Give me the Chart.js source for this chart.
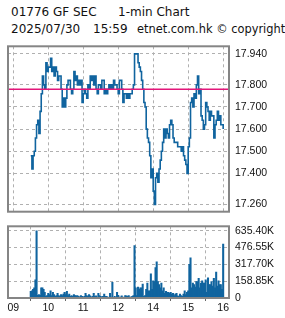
<!DOCTYPE html>
<html>
<head>
<meta charset="utf-8">
<script src="https://cdn.jsdelivr.net/npm/chart.js@4.4.1/dist/chart.umd.min.js"></script>
<style>
  body { margin: 0; background: #fff; width: 285px; height: 318px; overflow: hidden; position: relative;
         font-family: "DejaVu Sans", sans-serif; color: #111; }
  .hd { position: absolute; font-size: 12px; line-height: 14px; white-space: nowrap; }
  canvas { position: absolute; left: 0; }
</style>
</head>
<body>
<div class="hd" style="left:11px;top:5px">01776 GF SEC</div>
<div class="hd" style="left:118px;top:5px">1-min Chart</div>
<div class="hd" style="left:11px;top:22px">2025/07/30</div>
<div class="hd" style="left:93px;top:22px">15:59</div>
<div class="hd" style="left:137px;top:22px;font-size:11.4px">etnet.com.hk © copyright</div>
<canvas id="priceChart" width="285" height="190" style="top:34px"></canvas>
<canvas id="volChart" width="285" height="104" style="top:214px"></canvas>
<script>
/* ---------- data (trading minutes counted from 09:00, lunch break removed) ---------- */
const firstMinute = 30;   // 09:30
const stepMinutes = 2;
const prevClose = 17.78;

const prices = [
  17.48, 17.42, 17.48, 17.50, 17.56, 17.62, 17.64, 17.58, 17.68, 17.76,
  17.84, 17.80, 17.78, 17.90, 17.86, 17.88, 17.88, 17.92, 17.86, 17.88,
  17.84, 17.88, 17.86, 17.82, 17.84, 17.84, 17.78, 17.70, 17.74, 17.70,
  17.74, 17.80, 17.82, 17.82, 17.78, 17.76, 17.78, 17.86, 17.82, 17.84,
  17.80, 17.82, 17.80, 17.82, 17.72, 17.76, 17.78, 17.76, 17.74, 17.80,
  17.78, 17.84, 17.82, 17.84, 17.80, 17.84, 17.78, 17.76, 17.80, 17.80,
  17.78, 17.82, 17.82, 17.76, 17.78, 17.76, 17.78, 17.80, 17.78, 17.80,
  17.78, 17.82, 17.80, 17.80, 17.78, 17.76, 17.82, 17.82, 17.78, 17.72,
  17.76, 17.76, 17.74, 17.76, 17.74, 17.76, 17.76, 17.78, 17.80, 17.94,
  17.94, 17.94, 17.90, 17.88, 17.86, 17.82, 17.78, 17.72, 17.70, 17.60,
  17.56, 17.54, 17.48, 17.38, 17.42, 17.32, 17.26, 17.38, 17.40, 17.36,
  17.42, 17.46, 17.50, 17.54, 17.60, 17.56, 17.60, 17.58, 17.56, 17.62,
  17.64, 17.62, 17.56, 17.54, 17.54, 17.54, 17.52, 17.52, 17.52, 17.50,
  17.52, 17.48, 17.46, 17.44, 17.40, 17.52, 17.56, 17.72, 17.74, 17.70,
  17.76, 17.74, 17.80, 17.84, 17.76, 17.78, 17.66, 17.64, 17.60, 17.62,
  17.72, 17.70, 17.68, 17.64, 17.68, 17.66, 17.66, 17.56, 17.62, 17.64,
  17.68, 17.64, 17.66, 17.62, 17.62, 17.60
];

// volume in thousands of shares
const volumesK = [
  62, 68, 82, 97, 171, 635.4, 26, 32, 26, 97,
  97, 82, 53, 15, 24, 44, 32, 68, 24, 53,
  32, 15, 24, 44, 24, 15, 32, 24, 38, 53,
  32, 62, 24, 38, 15, 24, 15, 32, 24, 21,
  24, 15, 9, 24, 15, 9, 15, 44, 24, 15,
  32, 21, 9, 15, 44, 15, 21, 9, 44, 24,
  15, 9, 15, 38, 15, 15, 9, 6, 44, 9,
  147, 6, 15, 6, 53, 26, 9, 9, 21, 9,
  6, 24, 21, 15, 24, 9, 9, 15, 24, 494,
  97, 24, 103, 82, 97, 97, 132, 15, 24, 82,
  141, 68, 68, 229, 82, 162, 156, 288, 341, 156,
  127, 97, 141, 68, 97, 44, 62, 53, 53, 44,
  53, 38, 44, 24, 38, 44, 21, 15, 38, 24,
  15, 38, 68, 32, 53, 68, 318, 380, 97, 141,
  127, 103, 156, 156, 185, 97, 141, 162, 141, 141,
  171, 53, 191, 127, 127, 156, 112, 185, 97, 244,
  112, 162, 127, 127, 82, 509
];

const hourTicks = [0, 60, 120, 180, 240, 300, 360];
const hourLabels = ['09', '10', '11', '12', '14', '15', '16'];
const priceTicks = [17.94, 17.8, 17.7, 17.6, 17.5, 17.4, 17.26];
const volumeTicksK = [0, 158.85, 317.7, 476.55, 635.4];

/* ---------- shared look ---------- */
const BLUE = '#10649f';
const GRID = '#b0b0b0';
const tickFont = { family: 'Liberation Sans', size: 10.5 };
const xMin = -9, xMax = 370;

const framePlugin = {
  id: 'frame',
  afterDraw(chart) {
    const a = chart.chartArea, c = chart.ctx;
    c.save();
    c.strokeStyle = '#858585';
    c.lineWidth = 2;
    c.strokeRect(a.left, a.top, a.right - a.left, a.bottom - a.top);
    c.restore();
  }
};

function minuteAt(i) { return firstMinute + i * stepMinutes; }

/* ---------- price chart ---------- */
new Chart(document.getElementById('priceChart'), {
  type: 'line',
  data: {
    datasets: [
      {
        data: [{ x: xMin, y: prevClose }, { x: xMax, y: prevClose }],
        borderColor: '#e3177a',
        borderWidth: 1.5,
        pointRadius: 0,
        order: 0
      },
      {
        data: prices.map((p, i) => ({ x: minuteAt(i), y: p })),
        borderColor: BLUE,
        borderWidth: 1.6,
        pointRadius: 0,
        stepped: true,
        order: 1
      }
    ]
  },
  options: {
    responsive: false,
    animation: false,
    devicePixelRatio: 1,
    layout: { padding: { left: 8, top: 8, right: 0, bottom: 8 } },
    plugins: { legend: { display: false }, tooltip: { enabled: false } },
    scales: {
      x: {
        type: 'linear', min: xMin, max: xMax,
        afterBuildTicks: s => { s.ticks = hourTicks.map(v => ({ value: v })); },
        afterFit: s => { s.height = 0; },
        ticks: { display: false },
        grid: { color: GRID, drawTicks: false },
        border: { display: false, dash: [3, 3] }
      },
      y: {
        position: 'right', min: 17.227, max: 17.974,
        afterBuildTicks: s => { s.ticks = priceTicks.map(v => ({ value: v })); },
        afterFit: s => { s.width = 56; },
        ticks: { color: '#111', font: tickFont, padding: 6, autoSkip: false,
                 callback: v => v.toFixed(3) },
        grid: { color: GRID, drawTicks: false },
        border: { display: false, dash: [3, 3] }
      }
    }
  },
  plugins: [framePlugin]
});

/* ---------- volume chart ---------- */
new Chart(document.getElementById('volChart'), {
  type: 'bar',
  data: {
    datasets: [{
      data: volumesK.map((v, i) => ({ x: minuteAt(i), y: v })),
      backgroundColor: BLUE,
      borderWidth: 0,
      barThickness: 1.4
    }]
  },
  options: {
    responsive: false,
    animation: false,
    devicePixelRatio: 1,
    layout: { padding: { left: 8, top: 7, right: 0, bottom: 0 } },
    plugins: { legend: { display: false }, tooltip: { enabled: false } },
    scales: {
      x: {
        type: 'linear', min: xMin, max: xMax, offset: false,
        afterBuildTicks: s => { s.ticks = hourTicks.map(v => ({ value: v })); },
        afterFit: s => { s.height = 20; },
        ticks: { color: '#111', font: tickFont, padding: 1, autoSkip: false, maxRotation: 0,
                 callback: v => hourLabels[hourTicks.indexOf(v)] },
        grid: { color: GRID, tickColor: '#666', tickLength: 3 },
        border: { display: false, dash: [3, 3] }
      },
      y: {
        position: 'right', min: 0, max: 677,
        afterBuildTicks: s => { s.ticks = volumeTicksK.map(v => ({ value: v })); },
        afterFit: s => { s.width = 56; },
        ticks: { color: '#111', font: tickFont, padding: 6, autoSkip: false,
                 callback: v => v === 0 ? '0' : v.toFixed(2) + 'K' },
        grid: { color: GRID, drawTicks: false },
        border: { display: false, dash: [3, 3] }
      }
    }
  },
  plugins: [framePlugin]
});
</script>
</body>
</html>
